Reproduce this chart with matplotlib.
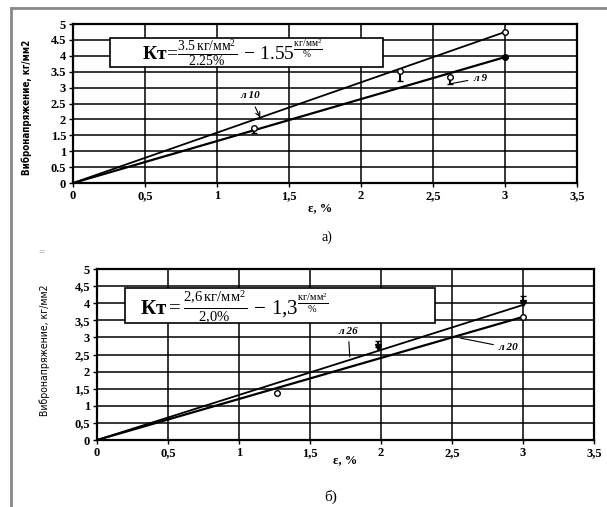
import numpy as np
import matplotlib
matplotlib.use('Agg')
import matplotlib.pyplot as plt
from matplotlib.patches import Rectangle
from matplotlib.lines import Line2D

plt.rcParams['font.family'] = ['Liberation Serif', 'DejaVu Serif']
plt.rcParams['mathtext.fontset'] = 'custom'
plt.rcParams['mathtext.rm'] = 'Liberation Serif'
plt.rcParams['mathtext.it'] = 'Liberation Serif'
plt.rcParams['mathtext.bf'] = 'Liberation Serif:bold'

# chart a)
line_x = [0, 3]
a_l10 = [0, 4.75]
a_l9 = [0, 3.96]
a_l10_px = [2.27, 3.0]
a_l10_py = [3.52, 4.75]
a_l10_err = [0.3, 0.0]
a_l9_px = [1.26, 2.62, 3.0]
a_l9_py = [1.72, 3.35, 3.96]
a_l9_err = [0.15, 0.25, 0.0]
a_yticklabels = ['0', '0.5', '1', '1.5', '2', '2.5', '3', '3.5', '4', '4.5', '5']

# chart б)
b_l26 = [0, 3.95]
b_l20 = [0, 3.6]
b_l26_px = [1.98, 3.0]
b_l26_py = [2.72, 4.0]
b_l26_err = [0.18, 0.22]
b_l20_px = [1.27, 3.0]
b_l20_py = [1.38, 3.6]
b_yticklabels = ['0', '0,5', '1', '1,5', '2', '2,5', '3', '3,5', '4', '4,5', '5']

xticklabels = ['0', '0,5', '1', '1,5', '2', '2,5', '3', '3,5']
ticks = np.arange(0, 3.51, 0.5)
yticks = np.arange(0, 5.01, 0.5)

fig = plt.figure(figsize=(6.07, 5.07), dpi=100)
ax1 = fig.add_axes([0.1203, 0.639, 0.8303, 0.3136])
ax2 = fig.add_axes([0.1598, 0.1321, 0.8188, 0.3373])


def setup(ax, ylabels):
    ax.set_xlim(0, 3.5)
    ax.set_ylim(0, 5)
    ax.set_xticks(ticks)
    ax.set_xticklabels(xticklabels, fontsize=9, fontweight='bold')
    ax.set_yticks(yticks)
    ax.set_yticklabels(ylabels, fontsize=9, fontweight='bold')
    ax.grid(True, color='black', lw=1.1)
    ax.set_axisbelow(True)
    ax.tick_params(length=3, width=1, pad=2)
    for s in ax.spines.values():
        s.set_linewidth(1.6)


setup(ax1, a_yticklabels)
setup(ax2, b_yticklabels)

# lines a)
ax1.plot(line_x, a_l10, color='black', lw=1.3, zorder=3)
ax1.plot(line_x, a_l9, color='black', lw=1.6, zorder=3)
ax1.errorbar(a_l10_px, a_l10_py, yerr=[a_l10_err, [0, 0]], fmt='o', ms=4,
             mfc='white', mec='black', ecolor='black', capsize=2, zorder=4)
ax1.errorbar(a_l9_px[:2], a_l9_py[:2], yerr=[a_l9_err[:2], [0, 0]], fmt='o', ms=4,
             mfc='white', mec='black', ecolor='black', capsize=2, zorder=4)
ax1.plot(a_l9_px[2], a_l9_py[2], 'o', ms=4, color='black', zorder=4)

ax1.add_patch(Rectangle((0.26, 3.65), 1.89, 0.91, fc='white', ec='black', lw=1.2, zorder=3))
ax1.text(0.48, 4.1,
         r'$\mathbf{Кт}\!=\!\frac{3.5\,\mathrm{кг/мм}^2}{2.25\%}\,-\,1.55^{\frac{\mathrm{кг/мм}^2}{\%}}$',
         fontsize=14, va='center', ha='left', zorder=5)

ax1.annotate('л 10', xy=(1.3, 2.06), xytext=(1.16, 2.74), fontsize=8,
             fontstyle='italic', fontweight='bold', va='center',
             arrowprops=dict(arrowstyle='->', lw=0.8, color='black',
                             shrinkA=3, shrinkB=0))
ax1.annotate('л 9', xy=(2.62, 3.12), xytext=(2.78, 3.3), fontsize=8,
             fontstyle='italic', fontweight='bold', va='center',
             arrowprops=dict(arrowstyle='-', lw=0.8, color='black',
                             shrinkA=2, shrinkB=0))

# lines б)
ax2.plot(line_x, b_l26, color='black', lw=1.3, zorder=3)
ax2.plot(line_x, b_l20, color='black', lw=1.6, zorder=3)
ax2.errorbar(b_l26_px, b_l26_py, yerr=[[0, 0], b_l26_err], fmt='v', ms=4,
             mfc='black', mec='black', ecolor='black', capsize=2, zorder=4)
ax2.plot(b_l20_px, b_l20_py, 'o', ms=4, mfc='white', mec='black', zorder=4)

ax2.add_patch(Rectangle((0.2, 3.42), 2.18, 1.02, fc='white', ec='black', lw=1.2, zorder=3))
ax2.text(0.3, 3.93,
         r'$\mathbf{Кт} = \frac{2{,}6\,\mathrm{кг/мм}^2}{2{,}0\%}\,-\,1{,}3^{\frac{\mathrm{кг/мм}^2}{\%}}$',
         fontsize=15, va='center', ha='left', zorder=5)

ax2.annotate('л 26', xy=(1.78, 2.43), xytext=(1.7, 3.17), fontsize=8,
             fontstyle='italic', fontweight='bold', va='center',
             arrowprops=dict(arrowstyle='-', lw=0.8, color='black',
                             shrinkA=2, shrinkB=0))
ax2.annotate('л 20', xy=(2.56, 2.98), xytext=(2.83, 2.7), fontsize=8,
             fontstyle='italic', fontweight='bold', va='center',
             arrowprops=dict(arrowstyle='-', lw=0.8, color='black',
                             shrinkA=2, shrinkB=0))

# axis labels and captions
fig.text(0.0445, 0.789, 'Вибронапряжение, кг/мм2', rotation=90, ha='center',
         va='center', fontsize=7, family=['DejaVu Sans'], fontstretch='condensed',
         fontweight='bold')
fig.text(0.074, 0.31, 'Вибронапряжение, кг/мм2', rotation=90, ha='center',
         va='center', fontsize=7.5, family=['DejaVu Sans'], fontstretch='condensed')
fig.text(0.527, 0.590, 'ε, %', ha='center', va='center', fontsize=9, fontweight='bold')
fig.text(0.568, 0.0927, 'ε, %', ha='center', va='center', fontsize=9, fontweight='bold')
fig.text(0.539, 0.533, 'а)', ha='center', va='center', fontsize=10)
fig.text(0.544, 0.02, 'б)', ha='center', va='center', fontsize=11)
fig.text(0.069, 0.503, '=', ha='center', va='center', fontsize=8, color='#999999')

# scan frame
fig.add_artist(Line2D([11 / 607, 11 / 607], [0, 1 - 8 / 507], color='#888888', lw=2))
fig.add_artist(Line2D([11 / 607, 1], [1 - 8 / 507, 1 - 8 / 507], color='#888888', lw=2))

fig.savefig('out.png', dpi=100)
